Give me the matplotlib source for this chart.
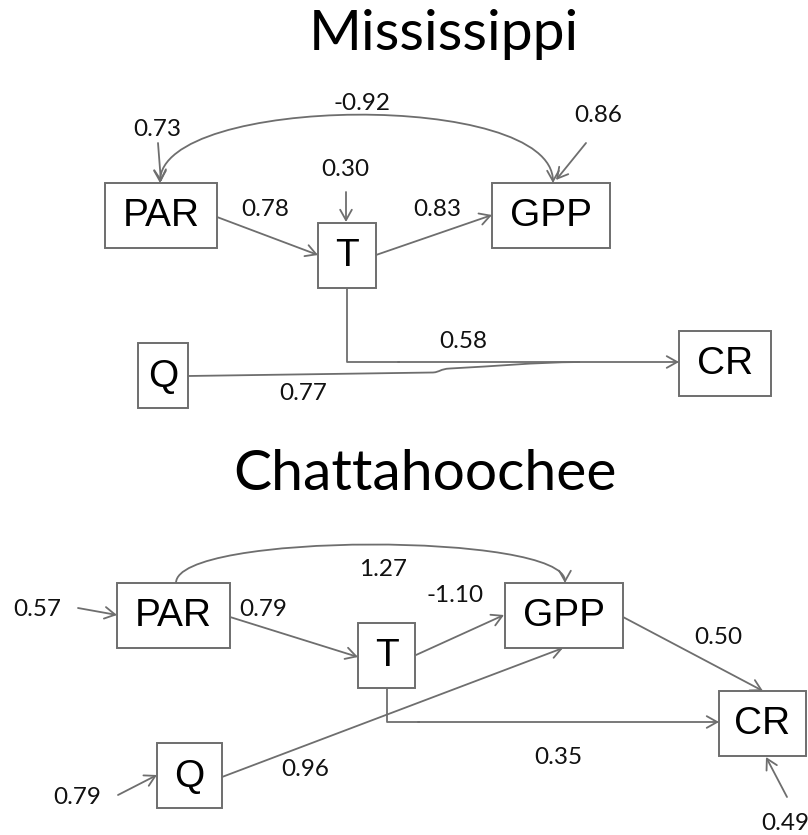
import matplotlib
matplotlib.use("Agg")
import matplotlib.pyplot as plt
from matplotlib.patches import Rectangle, FancyArrowPatch, PathPatch, ArrowStyle
from matplotlib.path import Path

# path coefficients
titles = ["Mississippi", "Chattahoochee"]

mis_paths = [("PAR", "T", 0.78), ("T", "GPP", 0.83), ("T", "CR", 0.58), ("Q", "CR", 0.77)]
mis_curve = ("PAR", "GPP", -0.92)
mis_errors = [("PAR", 0.73), ("T", 0.30), ("GPP", 0.86)]

cha_paths = [("PAR", "T", 0.79), ("T", "GPP", -1.10), ("Q", "GPP", 0.96),
             ("GPP", "CR", 0.50), ("T", "CR", 0.35)]
cha_curve = ("PAR", "GPP", 1.27)
cha_errors = [("PAR", 0.57), ("Q", 0.79), ("CR", 0.49)]

# layout in pixel space (x0, x1, y0, y1)
mis_boxes = {"PAR": (105, 217, 183, 248), "T": (318, 376, 223, 288),
             "GPP": (492, 610, 183, 248), "Q": (138, 188, 343, 408),
             "CR": (679, 771, 331, 396)}
cha_boxes = {"PAR": (117, 230, 583, 648), "T": (358, 415, 623, 688),
             "GPP": (505, 623, 583, 648), "Q": (157, 222, 743, 808),
             "CR": (719, 806, 691, 756)}

GRAY = "#6e6e6e"
NUM_FONT = "Lato"
BOX_FONT = "Liberation Sans"

fig = plt.figure(figsize=(8.08, 8.35), dpi=100)
ax = fig.add_axes([0, 0, 1, 1])
ax.set_xlim(0, 808)
ax.set_ylim(835, 0)
ax.axis("off")

style = ArrowStyle("->", head_length=7.5, head_width=4.2)


def arrow(a, b):
    ax.add_patch(FancyArrowPatch(a, b, arrowstyle=style, mutation_scale=1,
                                 color=GRAY, lw=1.3, shrinkA=0, shrinkB=0, zorder=2))


def line(pts):
    xs, ys = zip(*pts)
    ax.plot(xs, ys, color=GRAY, lw=1.3, zorder=2, solid_capstyle="butt")


def num(x, y, v):
    ax.text(x, y, f"{v:.2f}", ha="center", va="center", fontsize=17.5,
            family=NUM_FONT, color="#111111")


def boxes(d):
    for name, (x0, x1, y0, y1) in d.items():
        ax.add_patch(Rectangle((x0, y0), x1 - x0, y1 - y0, facecolor="white",
                               edgecolor=GRAY, lw=1.4, zorder=3))
        ax.text((x0 + x1) / 2, (y0 + y1) / 2 + 1, name, ha="center", va="center",
                fontsize=28, family=BOX_FONT, color="black", zorder=4)


# titles
ax.text(444, 50, titles[0], ha="center", va="baseline", fontsize=41, family=NUM_FONT)
ax.text(425, 490, titles[1], ha="center", va="baseline", fontsize=41, family=NUM_FONT)

# ---------------- Mississippi ----------------
b = mis_boxes
# curved correlation PAR <-> GPP
verts = [(160, 183), (160, 95), (553, 90), (553, 183)]
ax.add_patch(FancyArrowPatch(path=Path(verts, [Path.MOVETO, Path.CURVE4, Path.CURVE4, Path.CURVE4]),
                             arrowstyle=ArrowStyle("<->", head_length=7.5, head_width=4.2),
                             mutation_scale=1, color=GRAY, lw=1.3, zorder=2))
num(362, 103, mis_curve[2])

geo = {("PAR", "T"): ((217, 217), (318, 255), (265, 209)),
       ("T", "GPP"): ((376, 255), (492, 215), (437, 209))}
for s, t, v in mis_paths:
    if (s, t) in geo:
        a, c, lab = geo[(s, t)]
        arrow(a, c)
        num(*lab, v)
# T -> CR elbow
line([(347, 288), (347, 362), (400, 362)])
arrow((398, 362), (679, 362))
num(463, 342, mis_paths[2][2])
# Q -> CR merging curve
qpath = Path([(188, 376), (433, 372.5), (440, 372), (440, 369), (450, 368.5),
              (500, 366), (530, 362.5), (580, 362)],
             [Path.MOVETO, Path.LINETO, Path.CURVE4, Path.CURVE4, Path.CURVE4,
              Path.CURVE4, Path.CURVE4, Path.CURVE4])
ax.add_patch(PathPatch(qpath, facecolor="none", edgecolor=GRAY, lw=1.3, zorder=2))
num(303, 394, mis_paths[3][2])

# error terms
err_geo = {"PAR": ((158, 143), (161, 182), (157, 130)),
           "T": ((346, 192), (346, 222), (345, 169)),
           "GPP": ((586, 143), (556, 180), (598, 116))}
for n, v in mis_errors:
    a, c, lab = err_geo[n]
    arrow(a, c)
    num(*lab, v)
boxes(b)

# ---------------- Chattahoochee ----------------
b = cha_boxes
verts = [(176, 583), (176, 532), (565, 532), (565, 583)]
ax.add_patch(FancyArrowPatch(path=Path(verts, [Path.MOVETO, Path.CURVE4, Path.CURVE4, Path.CURVE4]),
                             arrowstyle=style, mutation_scale=1, color=GRAY, lw=1.3, zorder=2))
num(383, 569, cha_curve[2])

geo = {("PAR", "T"): ((230, 617), (358, 657), (263, 610)),
       ("T", "GPP"): ((416, 655), (504, 615), (455, 595)),
       ("Q", "GPP"): ((222, 777), (563, 648), (305, 770)),
       ("GPP", "CR"): ((623, 617), (763, 691), (718, 637))}
for s, t, v in cha_paths:
    if (s, t) in geo:
        a, c, lab = geo[(s, t)]
        arrow(a, c)
        num(*lab, v)
line([(387, 688), (387, 722), (420, 722)])
arrow((418, 722), (719, 722))
num(558, 757, cha_paths[4][2])

err_geo = {"PAR": ((78, 608), (117, 615), (37, 610)),
           "Q": ((118, 795), (157, 775), (77, 797)),
           "CR": ((787, 797), (766, 757), (785, 823))}
for n, v in cha_errors:
    a, c, lab = err_geo[n]
    arrow(a, c)
    num(*lab, v)
boxes(b)

fig.savefig("out.png", dpi=100, facecolor="white")
